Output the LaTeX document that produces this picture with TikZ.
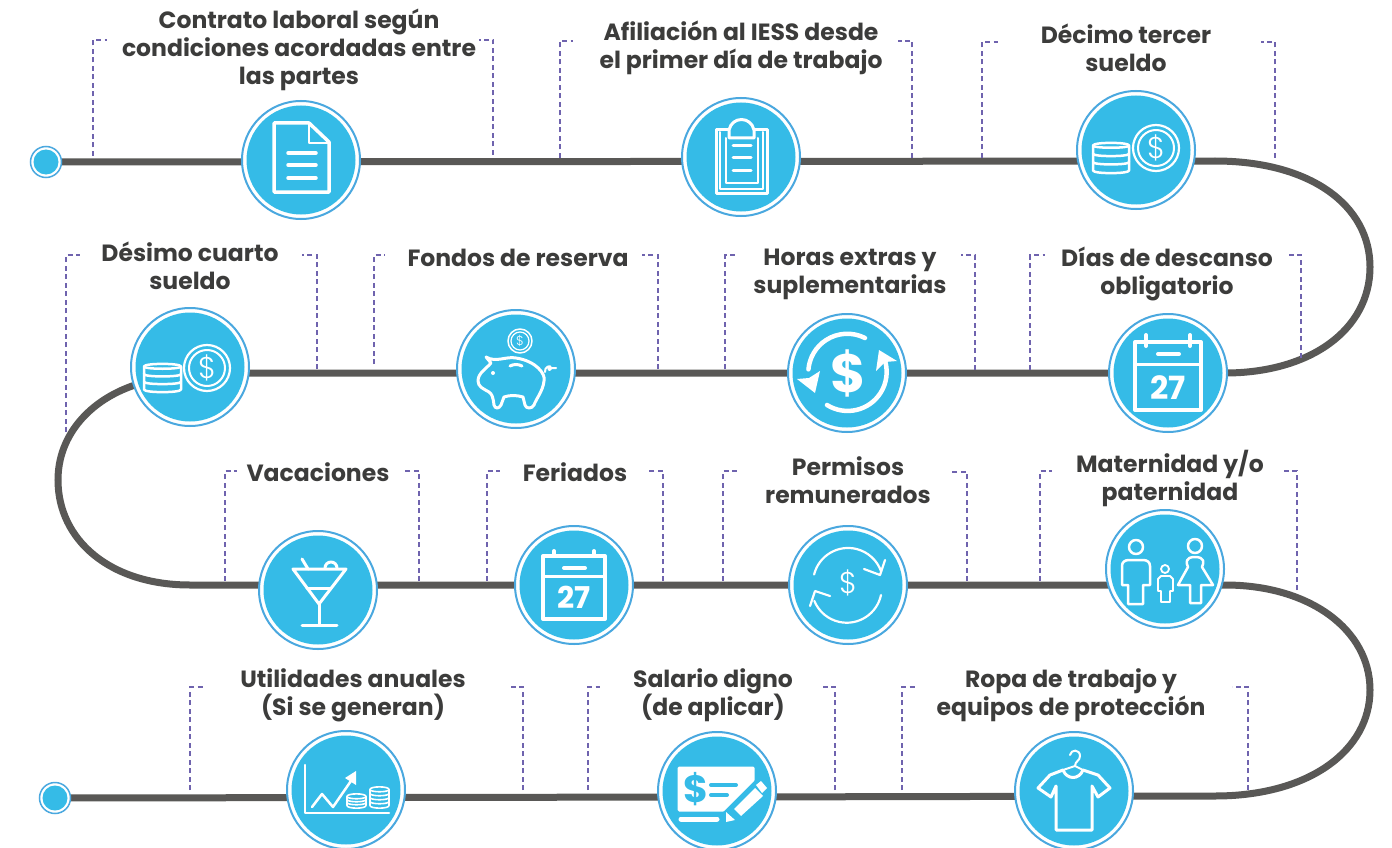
\documentclass[tikz,border=0pt]{standalone}
\usepackage{fontspec}
\setmainfont{Poppins}
\newfontfamily\thinfont{Poppins Light}
\usetikzlibrary{backgrounds}
\definecolor{discblue}{HTML}{35BBE7}
\definecolor{ringblue}{HTML}{4AA8DF}
\definecolor{roadgray}{HTML}{595856}
\definecolor{labelgray}{HTML}{3C3C3B}
\definecolor{dashpurple}{HTML}{6F63AE}
\tikzset{
  stepdisc/.style={circle,draw=ringblue,line width=2pt,fill=white,minimum size=118pt,inner sep=0pt,
    path picture={\fill[discblue] (path picture bounding box.center) circle (54.5pt);}},
  enddot/.style={circle,draw=ringblue,line width=1.5pt,fill=white,minimum size=31pt,inner sep=0pt,
    path picture={\fill[discblue] (path picture bounding box.center) circle (12.5pt);}},
  road/.style={draw=roadgray,line width=7pt},
  label/.style={text=labelgray,font=\fontsize{23.5}{28}\selectfont\bfseries,align=center,inner sep=0pt},
  brk/.style={draw=dashpurple,line width=1.2pt,dash pattern=on 5pt off 3.5pt},
  ico/.style={draw=white,line width=3pt,line cap=round,line join=round},
  icoglyph/.style={text=white,inner sep=0pt},
}
\newcommand{\bracketL}[4]{\draw[brk] (#1,#2) -- (#1,#3) -- (#4,#3);}
\newcommand{\stackcoins}[5]{%
  \pgfmathsetmacro{\sa}{#3+2.5}\pgfmathsetmacro{\sb}{#4-2.5}\pgfmathsetmacro{\sm}{#5}
  \pgfmathsetmacro{\sd}{(\sb-\sa)/\sm}
  \draw (#1,\sa) -- (#1,\sb) .. controls (#1,#4+1) and (#2,#4+1) .. (#2,\sb) -- (#2,\sa) .. controls (#2,#3-1) and (#1,#3-1) .. cycle;
  \foreach \k in {0,...,#5}{
    \pgfmathsetmacro{\sy}{\sa+\k*\sd}
    \ifnum\k<#5 \draw (#1,\sy) .. controls (#1,\sy+3) and (#2,\sy+3) .. (#2,\sy);\fi
  }}
\newcommand{\moneyicon}[6]{% center, stack x1 x2 ytop ybot, coin centre
  \begin{scope}[shift={(#1)},ico,line width=2.5pt]
    \stackcoins{#2}{#3}{#4}{#5}{3}
    \draw[line width=2.2pt] #6 circle (23);
    \draw[line width=2pt] #6 circle (18);
    \node[icoglyph,font=\fontsize{30}{30}\selectfont\thinfont] (dollarsign) at #6 {\$};
  \end{scope}}
\newcommand{\calicon}[9]{% center, halfw, top, bottom, div, ring top, digit y, digit size, ring length
  \begin{scope}[shift={(#1)},ico,line width=4pt]
    \draw[line join=round] (-#2,#3) rectangle (#2,#4);
    \draw[line width=3pt] (-#2,#5) -- (#2,#5);
    \draw (-#2+11,#6) -- (-#2+11,#6+#9);
    \draw (#2-11,#6) -- (#2-11,#6+#9);
    \draw (-10,#3+12) -- (11,#3+12);
    \node[icoglyph,font=\fontsize{#8}{#8}\selectfont\bfseries] (daynumber) at (0,#7) {27};
  \end{scope}}
\begin{document}
\begin{tikzpicture}[x=1pt,y=-1pt]
\useasboundingbox (0,0) rectangle (1392,848);
% discs
\node[enddot] (startdot) at (46,162) {};
\node[enddot] (enddotb) at (55,798) {};
\node[stepdisc] (n1) at (301,160) {};
\node[stepdisc] (n2) at (741,157) {};
\node[stepdisc] (n3) at (1136,150) {};
\node[stepdisc] (n4) at (190,367) {};
\node[stepdisc] (n5) at (516,369) {};
\node[stepdisc] (n6) at (847,373) {};
\node[stepdisc] (n7) at (1168,373) {};
\node[stepdisc] (n8) at (318,590) {};
\node[stepdisc] (n9) at (574,585) {};
\node[stepdisc] (n10) at (848,585) {};
\node[stepdisc] (n11) at (1165,569) {};
\node[stepdisc] (n12) at (346,790) {};
\node[stepdisc] (n13) at (717,791) {};
\node[stepdisc] (n14) at (1074,791) {};
\coordinate (r1a) at (1215,161);
\coordinate (r1b) at (1370,267);
\coordinate (r2a) at (1225,373);
\coordinate (r2b) at (135,385);
\coordinate (r2c) at (58,480);
\coordinate (r3a) at (190,585);
\coordinate (r3b) at (1225,585);
\coordinate (r3c) at (1370,690);
\coordinate (r4a) at (1215,796);
\coordinate (r4b) at (717,797);
\begin{scope}[on background layer]
  \fill[white] (0,0) rectangle (1392,848);
  \draw[road] (startdot.center) -- (r1a)
    .. controls (1310,161) and (1370,205) .. (r1b)
    .. controls (1370,330) and (1310,373) .. (r2a) -- (190,373) -- (r2b)
    .. controls (90,400) and (58,435) .. (r2c)
    .. controls (58,540) and (110,585) .. (r3a) -- (r3b)
    .. controls (1310,585) and (1370,630) .. (r3c)
    .. controls (1370,750) and (1310,796) .. (r4a) -- (r4b) -- (enddotb.center);
\end{scope}
% dashed brackets
\bracketL{93}{156}{40}{107}\bracketL{493}{155}{40}{479}
\bracketL{560}{158}{41}{573}\bracketL{912}{158}{41}{898}
\bracketL{982}{158}{42}{998}\bracketL{1275}{158}{42}{1261}
\bracketL{66}{432}{255}{80}\bracketL{317}{369}{255}{302}
\bracketL{374}{364}{255}{385}\bracketL{658}{369}{255}{642}
\bracketL{725}{369}{255}{738}\bracketL{975}{370}{255}{961}
\bracketL{1030}{370}{255}{1045}\bracketL{1301}{358}{255}{1287}
\bracketL{225}{581}{471}{237}\bracketL{419}{581}{471}{404}
\bracketL{487}{581}{471}{500}\bracketL{663}{581}{471}{649}
\bracketL{723}{581}{471}{737}\bracketL{967}{581}{472}{951}
\bracketL{1040}{581}{471}{1052}\bracketL{1297}{590}{471}{1283}
\bracketL{190}{790}{687}{205}\bracketL{523}{790}{687}{509}
\bracketL{588}{790}{687}{600}\bracketL{835}{790}{687}{822}
\bracketL{902}{790}{687}{915}\bracketL{1248}{790}{687}{1232}
% labels
\node[label] (t1) at (299,50) {Contrato laboral según\\condiciones acordadas entre\\las partes};
\node[label] (t2) at (741,48) {Afiliación al IESS desde\\el primer día de trabajo};
\node[label] (t3) at (1126,48) {Décimo tercer\\sueldo};
\node[label] (t4) at (190,266) {Désimo cuarto\\sueldo};
\node[label] (t5) at (518,258) {Fondos de reserva};
\node[label] (t6) at (850,274) {Horas extras y\\suplementarias};
\node[label] (t7) at (1167,274) {Días de descanso\\obligatorio};
\node[label] (t8) at (318,472) {Vacaciones};
\node[label] (t9) at (575,472) {Feriados};
\node[label] (t10) at (848,480) {Permisos\\remunerados};
\node[label] (t11) at (1170,478) {Maternidad y/o\\paternidad};
\node[label] (t12) at (353,695) {Utilidades anuales\\(Si se generan)};
\node[label] (t13) at (713,695) {Salario digno\\(de aplicar)};
\node[label] (t14) at (1071,695) {Ropa de trabajo y\\equipos de protección};
% doc icon
\begin{scope}[shift={(n1.center)},ico,line width=3.5pt]
  \draw (-27,-37) -- (8,-37) -- (28,-18) -- (28,32) -- (-27,32) -- cycle;
  \draw[line width=2.5pt] (8,-37) -- (8,-17) -- (28,-17);
  \draw (-13,-7) -- (15,-7) (-13,5) -- (15,5) (-13,18) -- (15,18);
\end{scope}
% clipboard icon
\begin{scope}[shift={(n2.center)},ico,line width=3pt]
  \draw (-25,-27) rectangle (26,36);
  \draw[line width=2pt] (-21,-25) -- (-21,32) -- (22,32) -- (22,-25);
  \draw[line width=2pt] (-15,-19) -- (-15,26) -- (17,26) -- (17,-19);
  \draw[fill=discblue] (-12,-19) -- (-12,-27) .. controls (-9,-41) and (10,-41) .. (13,-27) -- (13,-19) -- cycle;
  \draw (-8,-11) -- (10,-11) (-8,1) -- (10,1) (-8,13) -- (10,13);
\end{scope}
% coins
\moneyicon{n3.center}{-43}{-7}{-7}{23}{(20,-2)}
\moneyicon{n4.center}{-46}{-9}{-3}{25}{(17,1)}
% piggy
\begin{scope}[shift={(n5.center)},ico,line width=3pt]
  \draw[line width=1.5pt] (4,-28) circle (12);
  \draw[line width=1.2pt] (4,-28) circle (9);
  \node[icoglyph,font=\fontsize{13}{13}\selectfont\thinfont] (pigdollar) at (4,-28) {\$};
  \draw (-30,-12) .. controls (-20,-6) and (-10,-13) .. (0,-11)
     .. controls (20,-8) and (30,5) .. (28,12) .. controls (27,22) and (20,30) .. (18,36)
     .. controls (16,40) and (10,40) .. (9,36) -- (7,28) .. controls (0,26) and (-6,26) .. (-12,28)
     -- (-15,36) .. controls (-17,40) and (-21,40) .. (-22,36) .. controls (-23,28) and (-24,25) .. (-27,23)
     .. controls (-32,20) and (-38,18) .. (-38,12) .. controls (-38,4) and (-30,0) .. (-25,-6) -- cycle;
  \draw[line width=2pt] (29,3) .. controls (28,-2) and (35,-5) .. (35,-1) .. controls (35,2) and (31,1) .. (33,-1) -- (40,-1);
  \fill[white,draw=none] (-23,4) circle (2);
  \draw (-6,-3) .. controls (-2,-5) and (2,-5) .. (6,-3);
\end{scope}
% dollar cycle
\begin{scope}[shift={(n6.center)},ico,line width=4.5pt]
  \draw (18,-35) arc[start angle=-63,end angle=-175,radius=39];
  \draw (-20,32) arc[start angle=122,end angle=-15,radius=39];
  \fill[white,draw=none] (-50,6) -- (-38,5) -- (-27,-2) -- (-32,20) -- cycle;
  \fill[white,draw=none] (32,-23) -- (50,-12) -- (38,-11) -- (29,-2) -- cycle;
  \node[icoglyph,font=\fontsize{54}{54}\selectfont\bfseries] (bigdollar) at (1,0) {\$};
\end{scope}
% calendars
\calicon{n7.center}{33}{-31}{37}{-9}{-38}{15}{32}{11}
\calicon{n9.center}{31}{-29}{34}{-9}{-34}{12}{30}{4}
% cocktail
\begin{scope}[shift={(n8.center)},ico,line width=3pt]
  \draw (-25,-21) -- (28,-21) -- (1,14) -- cycle;
  \draw (-11,-2) -- (13,-2);
  \draw (1,14) -- (1,35) (-16,35) -- (19,35);
  \draw (-16,-31) -- (-10,-21);
  \draw (7,-22) arc[start angle=-180,end angle=0,radius=6];
\end{scope}
% thin cycle
\begin{scope}[shift={(n10.center)},ico,line width=2.2pt]
  \draw (-33.9,-10.5) arc[start angle=-166,end angle=-19,radius=35];
  \draw (33,10) arc[start angle=12,end angle=158,radius=35];
  \draw (16,-16) -- (32,-10) -- (37,-25);
  \draw (-18,11) -- (-33,6) -- (-38,21);
  \node[icoglyph,font=\fontsize{30}{30}\selectfont\thinfont] (thindollar) at (0,-2) {\$};
\end{scope}
% family
\begin{scope}[shift={(n11.center)},ico,line width=2.5pt]
  \draw (-29,-22) circle (7);
  \draw (-36,-9) -- (-22,-9) .. controls (-18,-9) and (-15,-7) .. (-15,-3) -- (-15,16) -- (-22,16) -- (-22,35) -- (-37,35) -- (-37,16) -- (-43,16) -- (-43,-3) .. controls (-43,-7) and (-40,-9) .. cycle;
  \draw[line width=1.8pt] (0,0) circle (4);
  \draw[line width=1.8pt] (-4,7) -- (5,7) -- (8,10) -- (8,22) -- (5,22) -- (5,33) -- (-4,33) -- (-4,22) -- (-7,22) -- (-7,10) -- cycle;
  \draw (30,-23) circle (7);
  \draw (30,-12) .. controls (20,-12) and (21,-6) .. (23,-2) -- (13,16) -- (25,16) -- (25,34) -- (36,34) -- (36,16) -- (48,16) -- (37,-2) .. controls (39,-6) and (40,-12) .. cycle;
\end{scope}
% chart
\begin{scope}[shift={(n12.center)},ico,line width=2.5pt]
  \draw (-41,-25) -- (-41,23) -- (43,23);
  \draw (-34,17) -- (-24,4) -- (-13,17) -- (7,-12);
  \fill[white,draw=none] (10,-19) -- (10,-5) -- (-1,-12) -- cycle;
  \begin{scope}[line width=1.6pt]
  \stackcoins{1}{20}{4}{18}{3}
  \stackcoins{24}{43}{-3}{18}{4}
  \end{scope}
\end{scope}
% cheque
\begin{scope}[shift={(n13.center)},ico,line width=3pt]
  \fill[white,draw=white] (-38,-23) -- (36,-23) -- (36,-11) -- (6,19) -- (-38,19) -- cycle;
  \node[text=discblue,inner sep=0pt,font=\fontsize{38}{38}\selectfont\bfseries] (chequedollar) at (-21,-2) {\$};
  \draw[discblue,line width=4pt] (-6,-6) -- (19,-6) (-6,4) -- (10,4);
  \draw[white,line width=5pt] (-36,28) -- (0,28);
  \fill[white,draw=none] (17,18) -- (38,-3) -- (46,5) -- (24,25) -- cycle;
  \fill[white,draw=none] (39,-6) -- (44,-10) -- (50,-3) -- (45,2) -- cycle;
  \fill[white,draw=none] (9,21) -- (18,29) -- (9,31) -- cycle;
\end{scope}
% shirt
\begin{scope}[shift={(n14.center)},ico,line width=3pt]
  \draw (-11,-21) -- (-24,-16) -- (-36,-3) -- (-23,6) -- (-18,-5) -- (-18,39) -- (18,39) -- (18,-5) -- (24,6) -- (36,-3) -- (24,-16) -- (9,-21) .. controls (5,-11) and (-7,-11) .. cycle;
  \draw[line width=2pt] (-11,-21) -- (1,-25) -- (9,-21);
  \draw[line width=2pt] (-4,-36) .. controls (-3,-42) and (6,-42) .. (6,-35) .. controls (6,-30) and (1,-30) .. (1,-25);
\end{scope}
\end{tikzpicture}
\end{document}
